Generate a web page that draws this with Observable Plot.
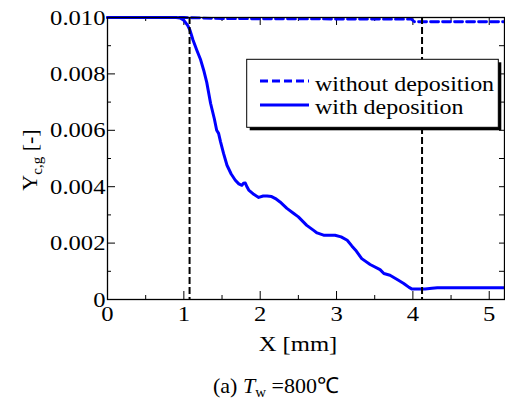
<!DOCTYPE html>
<html><head><meta charset="utf-8">
<script src="https://cdn.jsdelivr.net/npm/d3@7"></script>
<script src="https://cdn.jsdelivr.net/npm/@observablehq/plot@0.6"></script>
<style>
body{margin:0;background:#fff;}
#wrap{position:relative;width:505px;height:401px;font-family:"Liberation Serif","Times New Roman",serif;}
#cap{position:absolute;left:213px;top:375px;font-size:22px;line-height:22px;white-space:nowrap;color:#000;}
#cap sub{font-size:15px;vertical-align:-4px;line-height:0;}
</style></head>
<body><div id="wrap"></div>
<script>
// ---- data ----
const withX = [0, 0.5, 0.9, 0.95, 1.0, 1.05, 1.08, 1.12, 1.17, 1.22, 1.26, 1.30, 1.35, 1.40, 1.43, 1.455, 1.48, 1.52, 1.565, 1.62, 1.674, 1.72, 1.76, 1.78, 1.805, 1.83, 1.85, 1.92, 1.98, 2.04, 2.09, 2.15, 2.20, 2.26, 2.35, 2.44, 2.50, 2.61, 2.70, 2.745, 2.83, 2.98, 3.06, 3.14, 3.20, 3.25, 3.33, 3.44, 3.57, 3.62, 3.70, 3.80, 3.88, 3.95, 3.99, 4.16, 4.25, 4.32, 5.2];
const withY = [0.0100, 0.0100, 0.0100, 0.00998, 0.0099, 0.00972, 0.00955, 0.0092, 0.00884, 0.0085, 0.00813, 0.0077, 0.00696, 0.0064, 0.0060, 0.00589, 0.0056, 0.00518, 0.00476, 0.00445, 0.00423, 0.0041, 0.00405, 0.00412, 0.00413, 0.00398, 0.00388, 0.00372, 0.00362, 0.00367, 0.00367, 0.00365, 0.00358, 0.00346, 0.00323, 0.00305, 0.00293, 0.00263, 0.00245, 0.00236, 0.00228, 0.00228, 0.00222, 0.0021, 0.0019, 0.00175, 0.00145, 0.00124, 0.00106, 0.00092, 0.00086, 0.0007, 0.00057, 0.00043, 0.00037, 0.00037, 0.0004, 0.00042, 0.00042];
const withoutX = [0, 1.0, 1.5, 2.5, 3.98, 4.02, 5.2];
const withoutY = [0.0100, 0.0100, 0.00996, 0.00995, 0.00994, 0.00985, 0.00985];
const markerX = [1.075, 4.12];
const xMajor = [0, 1, 2, 3, 4, 5];
const xMinor = [0.5, 1.5, 2.5, 3.5, 4.5];
const yMajor = [0, 0.002, 0.004, 0.006, 0.008, 0.010];
const yMinor = [0.001, 0.003, 0.005, 0.007, 0.009];
const yTickLabels = ["0", "0.002", "0.004", "0.006", "0.008", "0.010"];
const seriesNames = ["without deposition", "with deposition"];
const xLabel = "X [mm]";

const withData = withX.map((x, i) => ({x, y: withY[i]}));
const withoutData = withoutX.map((x, i) => ({x, y: withoutY[i]}));

const W = 505, H = 360, mL = 107, mR = 1, mT = 17, mB = 61;
const fh = H - mT - mB, fw = W - mL - mR;
const blue = "#0000ff";
const font = "'Liberation Serif', 'Times New Roman', serif";
const stretch = 1.12;

const chart = Plot.plot({
  width: W, height: H,
  marginLeft: mL, marginRight: mR, marginTop: mT, marginBottom: mB,
  style: {fontFamily: font, fontSize: "22px", background: "white", color: "black", overflow: "visible"},
  x: {domain: [0, 5.2], label: null},
  y: {domain: [0, 0.010], label: null},
  marks: [
    Plot.ruleX(xMajor, {x: d => d, insetTop: fh - 8, stroke: "black"}),
    Plot.ruleX(xMajor, {x: d => d, insetBottom: fh - 8, stroke: "black"}),
    Plot.ruleX(xMinor, {x: d => d, insetTop: fh - 4, stroke: "black"}),
    Plot.ruleX(xMinor, {x: d => d, insetBottom: fh - 4, stroke: "black"}),
    Plot.ruleY(yMajor, {y: d => d, insetRight: fw - 8, stroke: "black"}),
    Plot.ruleY(yMajor, {y: d => d, insetLeft: fw - 5, stroke: "black"}),
    Plot.ruleY(yMinor, {y: d => d, insetRight: fw - 4, stroke: "black"}),
    Plot.ruleY(yMinor, {y: d => d, insetLeft: fw - 5, stroke: "black"}),
    Plot.axisX({ticks: xMajor, tickSize: 0, tickPadding: 6, label: null, tickFormat: d => String(d), fontSize: 22}),
    Plot.axisY({ticks: yMajor, tickSize: 0, tickPadding: 2, label: null, tickFormat: d => yTickLabels[yMajor.indexOf(d)], fontSize: 22}),
    Plot.line(withoutData, {x: "x", y: "y", stroke: blue, strokeWidth: 2.8, strokeDasharray: "8,4"}),
    Plot.line(withData, {x: "x", y: "y", stroke: blue, strokeWidth: 3, curve: "linear"}),
    Plot.ruleX(markerX, {x: d => d, stroke: "black", strokeWidth: 2, strokeDasharray: "7,3"}),
    Plot.frame({stroke: "black", strokeWidth: 1.3}),
    Plot.text([xLabel], {text: d => d, frameAnchor: "bottom", dx: -8, dy: 44, lineAnchor: "middle", fontSize: 22, fill: "black"})
  ]
});

const svg = d3.select(chart);
// stretch tick labels and axis label horizontally, like the reference
svg.selectAll("text").each(function() {
  const t = this.getAttribute("transform") || "";
  this.setAttribute("transform", t + ` scale(${stretch},1)`);
});

// y label with subscript
const yl = svg.append("text")
  .attr("transform", "translate(37,160) rotate(-90)")
  .attr("text-anchor", "middle")
  .attr("font-size", 22).attr("font-family", font).attr("fill", "black");
yl.append("tspan").text("Y");
yl.append("tspan").attr("font-size", 15).attr("dy", 5).text("c,g");
yl.append("tspan").attr("dy", -5).text(" [-]");

// legend
const lg = svg.append("g").attr("font-family", font).attr("font-size", 22).attr("text-anchor", "start");
lg.append("rect").attr("x", 249.7).attr("y", 62.3).attr("width", 251.6).attr("height", 68).attr("fill", "black");
lg.append("rect").attr("x", 246.7).attr("y", 59.3).attr("width", 251.6).attr("height", 68).attr("fill", "white").attr("stroke", "black").attr("stroke-width", 1);
lg.append("line").attr("x1", 260).attr("x2", 309).attr("y1", 81).attr("y2", 81).attr("stroke", blue).attr("stroke-width", 2.8).attr("stroke-dasharray", "8,4");
lg.append("line").attr("x1", 260).attr("x2", 309).attr("y1", 105).attr("y2", 105).attr("stroke", blue).attr("stroke-width", 3);
lg.append("text").attr("transform", `translate(315,91) scale(1.09,1)`).attr("fill", "black").text(seriesNames[0]);
lg.append("text").attr("transform", `translate(315,114) scale(1.09,1)`).attr("fill", "black").text(seriesNames[1]);

const wrap = document.getElementById("wrap");
wrap.appendChild(chart);
const cap = document.createElement("div");
cap.id = "cap";
cap.innerHTML = "(a) <i>T</i><sub>w</sub> =800℃";
wrap.appendChild(cap);
</script>
</body></html>
